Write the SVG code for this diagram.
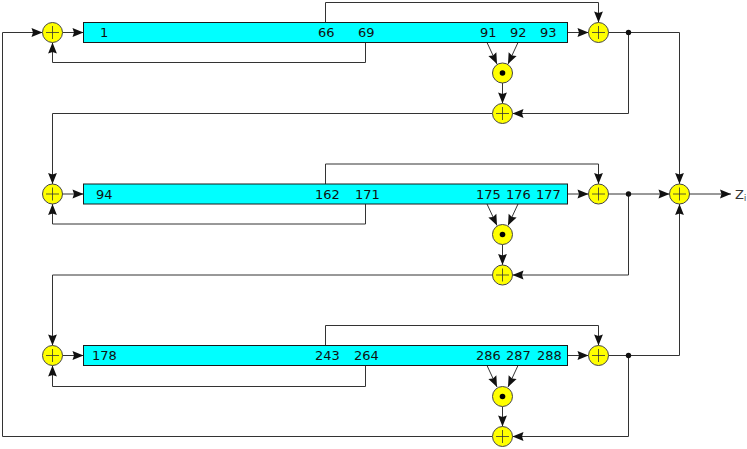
<svg xmlns="http://www.w3.org/2000/svg" width="747" height="449" viewBox="0 0 747 449">
<style>
text{font-family:"DejaVu Sans",sans-serif;font-size:13px;fill:#111}
.reg{fill:#00ffff;stroke:#1a1a1a;stroke-width:1}
.op{fill:#ffff00;stroke:#444;stroke-width:1}
.sym{fill:none;stroke:#333;stroke-width:.8}
.c{fill:none;stroke:#333;stroke-width:1;marker-end:url(#a)}
.n{fill:none;stroke:#333;stroke-width:1}
</style>
<defs>
<marker id="a" markerUnits="userSpaceOnUse" markerWidth="12" markerHeight="10" refX="11" refY="5" orient="auto" overflow="visible"><path d="M0,0.600L11,5L0,9.400L1.500,5Z" fill="#111"/></marker>
<g id="xor"><circle class="op" r="10"/><path class="sym" d="M-6.500,0H6.500M0,-6.500V6.500"/></g>
<g id="and"><circle class="op" r="10"/><circle r="2.800" fill="#000"/></g>
</defs>
<g id="connectors">
<path class="c" d="M2.500,436.500V32.500H42.500"/>
<path class="c" d="M62.500,32.500H83.500"/>
<path class="c" d="M365.500,42.500V62.500H52.500V42.500"/>
<path class="c" d="M325.500,22.500V2.500H598.500V22.500"/>
<path class="c" d="M567.500,32.500H588.500"/>
<path class="c" d="M608.500,32.500H679.500V184"/>
<path class="c" d="M628.500,32.500V113.500H512.500"/>
<path class="c" d="M487,42.500L497,64"/>
<path class="c" d="M518,42.500L508,64"/>
<path class="c" d="M502.500,83V103.500"/>
<path class="c" d="M492.500,113.500H52.500V184"/>
<path class="c" d="M62.500,194H83.500"/>
<path class="c" d="M365.500,204V224H52.500V204"/>
<path class="c" d="M325.500,184V164H598.500V184"/>
<path class="c" d="M567.500,194H588.500"/>
<path class="c" d="M608.500,194H669.500"/>
<path class="c" d="M689.500,194H731"/>
<path class="c" d="M628.500,194V275H512.500"/>
<path class="c" d="M487,204L497,225.500"/>
<path class="c" d="M518,204L508,225.500"/>
<path class="c" d="M502.500,244.500V265"/>
<path class="c" d="M492.500,275H52.500V345.500"/>
<path class="c" d="M62.500,355.500H83.500"/>
<path class="c" d="M365.500,365.500V386.500H52.500V365.500"/>
<path class="c" d="M325.500,345.500V325.500H598.500V345.500"/>
<path class="c" d="M567.500,355.500H588.500"/>
<path class="c" d="M608.500,355.500H679.500V204"/>
<path class="c" d="M628.500,355.500V436.500H512.500"/>
<path class="c" d="M487,365.500L497,387"/>
<path class="c" d="M518,365.500L508,387"/>
<path class="c" d="M502.500,406.500V426.500"/>
<path class="n" d="M492.500,436.500H2.500"/>
<circle cx="628.500" cy="32.500" r="2.700" fill="#111"/>
<circle cx="628.500" cy="194" r="2.700" fill="#111"/>
<circle cx="628.500" cy="355.500" r="2.700" fill="#111"/>
</g>
<g id="reg1"><rect class="reg" x="83.500" y="22.500" width="484" height="20"/>
<text x="100" y="37">1</text><text x="318" y="37">66</text><text x="358" y="37">69</text><text x="480" y="37">91</text><text x="510" y="37">92</text><text x="540" y="37">93</text></g>
<g id="reg2"><rect class="reg" x="83.500" y="184" width="484" height="20"/>
<text x="96" y="198.500">94</text><text x="315" y="198.500">162</text><text x="355" y="198.500">171</text><text x="476" y="198.500">175</text><text x="506" y="198.500">176</text><text x="536" y="198.500">177</text></g>
<g id="reg3"><rect class="reg" x="83.500" y="345.500" width="484" height="20"/>
<text x="92" y="360">178</text><text x="315" y="360">243</text><text x="354" y="360">264</text><text x="476" y="360">286</text><text x="506" y="360">287</text><text x="537" y="360">288</text></g>
<g id="x1"><use href="#xor" x="52.500" y="32.500"/></g>
<g id="x2"><use href="#xor" x="598.500" y="32.500"/></g>
<g id="a1"><use href="#and" x="502.500" y="73"/></g>
<g id="x3"><use href="#xor" x="502.500" y="113.500"/></g>
<g id="x4"><use href="#xor" x="52.500" y="194"/></g>
<g id="x5"><use href="#xor" x="598.500" y="194"/></g>
<g id="a2"><use href="#and" x="502.500" y="234.500"/></g>
<g id="x6"><use href="#xor" x="502.500" y="275"/></g>
<g id="x7"><use href="#xor" x="52.500" y="355.500"/></g>
<g id="x8"><use href="#xor" x="598.500" y="355.500"/></g>
<g id="a3"><use href="#and" x="502.500" y="396.500"/></g>
<g id="x9"><use href="#xor" x="502.500" y="436.500"/></g>
<g id="xout"><use href="#xor" x="679.500" y="194"/></g>
<g id="zi"><text x="735" y="199" style="fill:#333">Z<tspan dy="2" style="font-size:8px">i</tspan></text></g>
</svg>
